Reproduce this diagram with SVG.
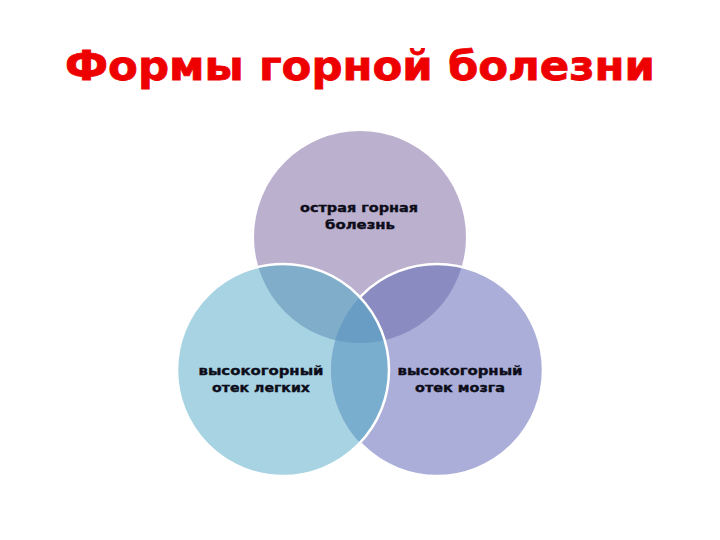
<svg xmlns="http://www.w3.org/2000/svg" width="720" height="540" viewBox="0 0 720 540">
<style>
.lbl{font-family:"DejaVu Sans","Liberation Sans",sans-serif;font-weight:bold;font-size:13px;fill:#0d0d1a;stroke:#0d0d1a;stroke-width:0.4;text-anchor:middle}
.title{font-family:"DejaVu Sans","Liberation Sans",sans-serif;font-weight:bold;font-size:41px;fill:#ee0000;stroke:#ee0000;stroke-width:0.8;text-anchor:middle}
.edge{fill:none;stroke:#ffffff;stroke-width:2.5}
</style>
<defs>
<clipPath id="cTop"><circle cx="360" cy="237" r="106"/></clipPath>
<clipPath id="cLeft"><circle cx="283" cy="370" r="106"/></clipPath>
<clipPath id="cRight"><circle cx="437" cy="370" r="106"/></clipPath>
<mask id="mNoLeft"><rect width="720" height="540" fill="#fff"/><circle cx="283" cy="370" r="107" fill="#000"/></mask>
</defs>
<rect width="720" height="540" fill="#ffffff"/>
<text class="title" x="360" y="80" textLength="590" lengthAdjust="spacingAndGlyphs">Формы горной болезни</text>
<g id="top-circle">
<circle cx="360" cy="237" r="106" fill="#bcb0cf"/>
</g>
<g id="left-circle">
<circle cx="283" cy="370" r="106" fill="#a7d3e2"/>
</g>
<g id="right-circle">
<circle cx="437" cy="370" r="106" fill="#aaaed8"/>
</g>
<g id="overlaps">
<circle cx="283" cy="370" r="106" fill="#80aeca" clip-path="url(#cTop)"/>
<circle cx="437" cy="370" r="106" fill="#8a8bc1" clip-path="url(#cTop)"/>
<circle cx="437" cy="370" r="106" fill="#79aecf" clip-path="url(#cLeft)"/>
<g clip-path="url(#cTop)"><circle cx="437" cy="370" r="106" fill="#6a9dc4" clip-path="url(#cLeft)"/></g>
</g>
<g id="edges">
<circle class="edge" cx="437" cy="370" r="106" mask="url(#mNoLeft)"/>
<circle class="edge" cx="283" cy="370" r="106"/>
</g>
<g id="labels">
<text class="lbl" x="359" y="212" textLength="118" lengthAdjust="spacingAndGlyphs">острая горная</text>
<text class="lbl" x="360" y="229" textLength="70" lengthAdjust="spacingAndGlyphs">болезнь</text>
<text class="lbl" x="261" y="375" textLength="125" lengthAdjust="spacingAndGlyphs">высокогорный</text>
<text class="lbl" x="261" y="392" textLength="98" lengthAdjust="spacingAndGlyphs">отек легких</text>
<text class="lbl" x="460" y="375" textLength="125" lengthAdjust="spacingAndGlyphs">высокогорный</text>
<text class="lbl" x="460" y="392" textLength="90" lengthAdjust="spacingAndGlyphs">отек мозга</text>
</g>
</svg>
